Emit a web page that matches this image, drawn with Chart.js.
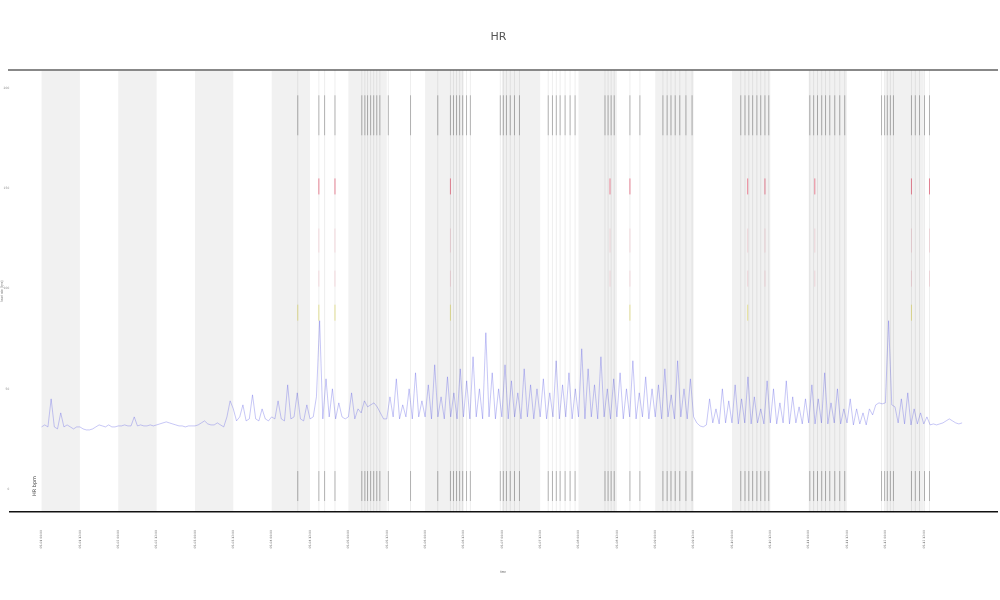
<!DOCTYPE html>
<html>
<head>
<meta charset="utf-8">
<script src="https://cdn.jsdelivr.net/npm/chart.js@4"></script>
<style>
html, body { margin: 0; padding: 0; background: #fff; overflow: hidden; }
canvas { display: block; }
</style>
</head>
<body>
<canvas id="chart" width="1000" height="600"></canvas>
<script>
// x tick labels, one per half day
var tickLabels = ['05-01 00:00','05-01 12:00','05-02 00:00','05-02 12:00','05-03 00:00','05-03 12:00',
  '05-04 00:00','05-04 12:00','05-05 00:00','05-05 12:00','05-06 00:00','05-06 12:00',
  '05-07 00:00','05-07 12:00','05-08 00:00','05-08 12:00','05-09 00:00','05-09 12:00',
  '05-10 00:00','05-10 12:00','05-11 00:00','05-11 12:00','05-12 00:00','05-12 12:00'];
var yTicks = [0, 50, 100, 150, 200];

// measured signal, 12 samples per tick interval
var samplesPerTick = 12;
var signal = [
  31,32,31,45,31,30,38,31,32,31,30,31,
  31,30,29.5,29.5,30,31,32,31.5,31,32,31,31,
  31.5,31.5,32,31.5,31.5,36,31.5,32,31.5,31.5,32,31.5,
  32,32.5,33,33.5,33,32.5,32,31.5,31.5,31,31.5,31.5,
  31.5,32,33,34,32.5,32,32,33,32,31,36,44,
  40,34,36,42,34,35,47,35,34,40,35,34,
  36,35,44,35,34,52,35,36,48,35,34,42,
  35,36,46,84,35,55,36,50,35,43,36,35,
  36,48,35,40,38,44,41,42,43,41,38,35,
  35,46,36,55,35,42,36,50,35,58,36,44,
  36,52,35,62,36,46,35,56,36,48,35,60,
  36,54,35,66,36,50,35,78,36,58,35,50,
  36,62,35,54,36,48,35,60,36,52,35,50,
  36,55,35,48,36,64,35,52,36,58,35,50,
  36,70,35,60,36,52,35,66,36,50,35,55,
  36,58,35,50,36,64,35,48,36,56,35,50,
  36,52,35,60,36,47,35,64,36,50,35,55,
  36,33,31.5,31,32,45,33,40,32.5,50,33,44,
  33,52,32.5,45,33,56,32.5,46,33,40,32.5,54,
  33,50,32.5,43,33,54,32.5,46,33,41,32.5,45,
  33,52,32.5,45,33,58,32.5,43,33,50,32.5,40,
  33,45,32,40,32.5,38,32,40,37,42,43,42.5,
  43,84,42,41,33,45,32.5,48,32,40,32.5,38,
  32.5,36,32,32.5,32,32.5,33,34,35,34,33,32.5,
  33
];

// event times (in tick units)
var eventTimes = [6.68,7.23,7.38,7.65,8.35,8.43,8.50,8.58,8.66,8.74,8.82,9.04,9.62,10.33,10.66,10.74,10.82,10.90,
  10.98,11.08,11.18,11.96,12.04,12.12,12.22,12.33,12.46,13.21,13.32,13.42,13.52,13.65,13.78,13.91,
  14.69,14.77,14.85,14.93,15.34,15.60,16.20,16.31,16.41,16.52,16.64,16.80,16.96,18.23,18.34,18.44,
  18.54,18.65,18.75,18.86,18.96,20.03,20.13,20.23,20.34,20.44,20.55,20.68,20.81,20.94,21.90,21.98,
  22.05,22.13,22.21,22.68,22.78,22.89,23.02,23.15];
var alarmTimes = [7.23, 7.65, 10.66, 14.82, 15.34, 18.41, 18.86, 20.16, 22.68, 23.15];
var warnTimes = [6.68, 7.23, 7.65, 10.66, 15.34, 18.41, 22.68];
var shadeStarts = [0, 2, 4, 6, 8, 10, 12, 14, 16, 18, 20, 22];

var linePoints = signal.map(function(v, i) { return { x: i / samplesPerTick, y: v }; });
function marks(times, y) { return times.map(function(t) { return { x: t, y: y }; }); }

var shading = {
  id: 'shading',
  beforeDraw: function(chart) {
    var a = chart.chartArea, xs = chart.scales.x, ctx = chart.ctx;
    ctx.save();
    ctx.fillStyle = '#f1f1f1';
    shadeStarts.forEach(function(s) {
      var l = xs.getPixelForValue(s), r = xs.getPixelForValue(s + 1);
      ctx.fillRect(l, a.top, r - l, a.bottom - a.top);
    });
    ctx.restore();
  },
  afterDraw: function(chart) {
    // small legend label inside the plot, lower left
    var ctx = chart.ctx, xs = chart.scales.x, ys = chart.scales.y;
    ctx.save();
    ctx.translate(xs.getPixelForValue(-0.18), ys.getPixelForValue(1.5));
    ctx.rotate(-Math.PI / 2);
    ctx.fillStyle = '#444';
    ctx.font = '5px "DejaVu Sans"';
    ctx.textAlign = 'center';
    ctx.textBaseline = 'middle';
    ctx.fillText(chart.data.datasets[1].label, 0, 0);
    ctx.restore();
  }
};

function tickMarks(label, data, radius, color, width) {
  return {
    type: 'scatter', label: label, data: data, showLine: false,
    pointStyle: 'line', pointRotation: 90, pointRadius: radius, pointHoverRadius: radius,
    pointBorderColor: color, pointBorderWidth: width, pointBackgroundColor: color
  };
}

document.addEventListener("DOMContentLoaded", function() {
  var ctx = document.getElementById('chart').getContext('2d');
  new Chart(ctx, {
    type: 'scatter',
    data: {
      datasets: [
        tickMarks('events', marks(eventTimes, 98.75), 221, 'rgba(0,0,0,0.07)', 1),
        {
          type: 'line', label: 'HR bpm', data: linePoints,
          borderColor: 'rgba(95,95,230,0.5)', borderWidth: 0.7,
          pointRadius: 0, tension: 0, fill: false
        },
        tickMarks('top', marks(eventTimes, 186.5), 20, 'rgba(0,0,0,0.45)', 0.6),
        tickMarks('bottom', marks(eventTimes, 1.5), 15, 'rgba(0,0,0,0.45)', 0.6),
        tickMarks('alarm', marks(alarmTimes, 151), 8, 'rgba(230,60,90,0.6)', 1),
        tickMarks('alarm2', marks(alarmTimes, 124), 12, 'rgba(230,60,90,0.15)', 1),
        tickMarks('alarm3', marks(alarmTimes, 105), 8, 'rgba(230,60,90,0.15)', 1),
        tickMarks('warn', marks(warnTimes, 88), 8, 'rgba(220,210,60,0.5)', 1)
      ]
    },
    options: {
      responsive: false,
      animation: false,
      layout: { autoPadding: false, padding: { left: 0, right: 3, top: 0, bottom: 12 } },
      plugins: {
        legend: { display: false },
        tooltip: { enabled: false },
        title: {
          display: true, text: 'HR',
          color: '#555', font: { size: 11, weight: 'normal', family: 'DejaVu Sans' },
          padding: { top: 31, bottom: 26 }
        }
      },
      scales: {
        x: {
          type: 'linear', min: -0.84, max: 24.91,
          afterBuildTicks: function(axis) {
            axis.ticks = tickLabels.map(function(l, i) { return { value: i }; });
          },
          grid: { display: false, drawTicks: false },
          border: { display: true, color: '#111', width: 1.5 },
          ticks: {
            autoSkip: false, minRotation: 90, maxRotation: 90, padding: 18,
            color: '#666', font: { size: 3, family: 'DejaVu Sans' },
            callback: function(v) { return tickLabels[v]; }
          },
          title: { display: true, text: 'time', color: '#666', font: { size: 3 }, padding: { top: 4, bottom: 14 } }
        },
        x2: {
          type: 'linear', position: 'top', min: -0.84, max: 24.91,
          grid: { display: false, drawTicks: false },
          border: { display: true, color: '#888', width: 2 },
          ticks: { display: false }
        },
        y: {
          min: -11.5, max: 209,
          afterBuildTicks: function(axis) {
            axis.ticks = yTicks.map(function(v) { return { value: v }; });
          },
          grid: { display: false, drawTicks: false },
          border: { display: false },
          ticks: { padding: 0, color: '#888', font: { size: 3, family: 'DejaVu Sans' } },
          title: { display: true, text: 'heart rate (bpm)', color: '#888', font: { size: 3 }, padding: 0 }
        }
      }
    },
    plugins: [shading]
  });
});
</script>
</body>
</html>
